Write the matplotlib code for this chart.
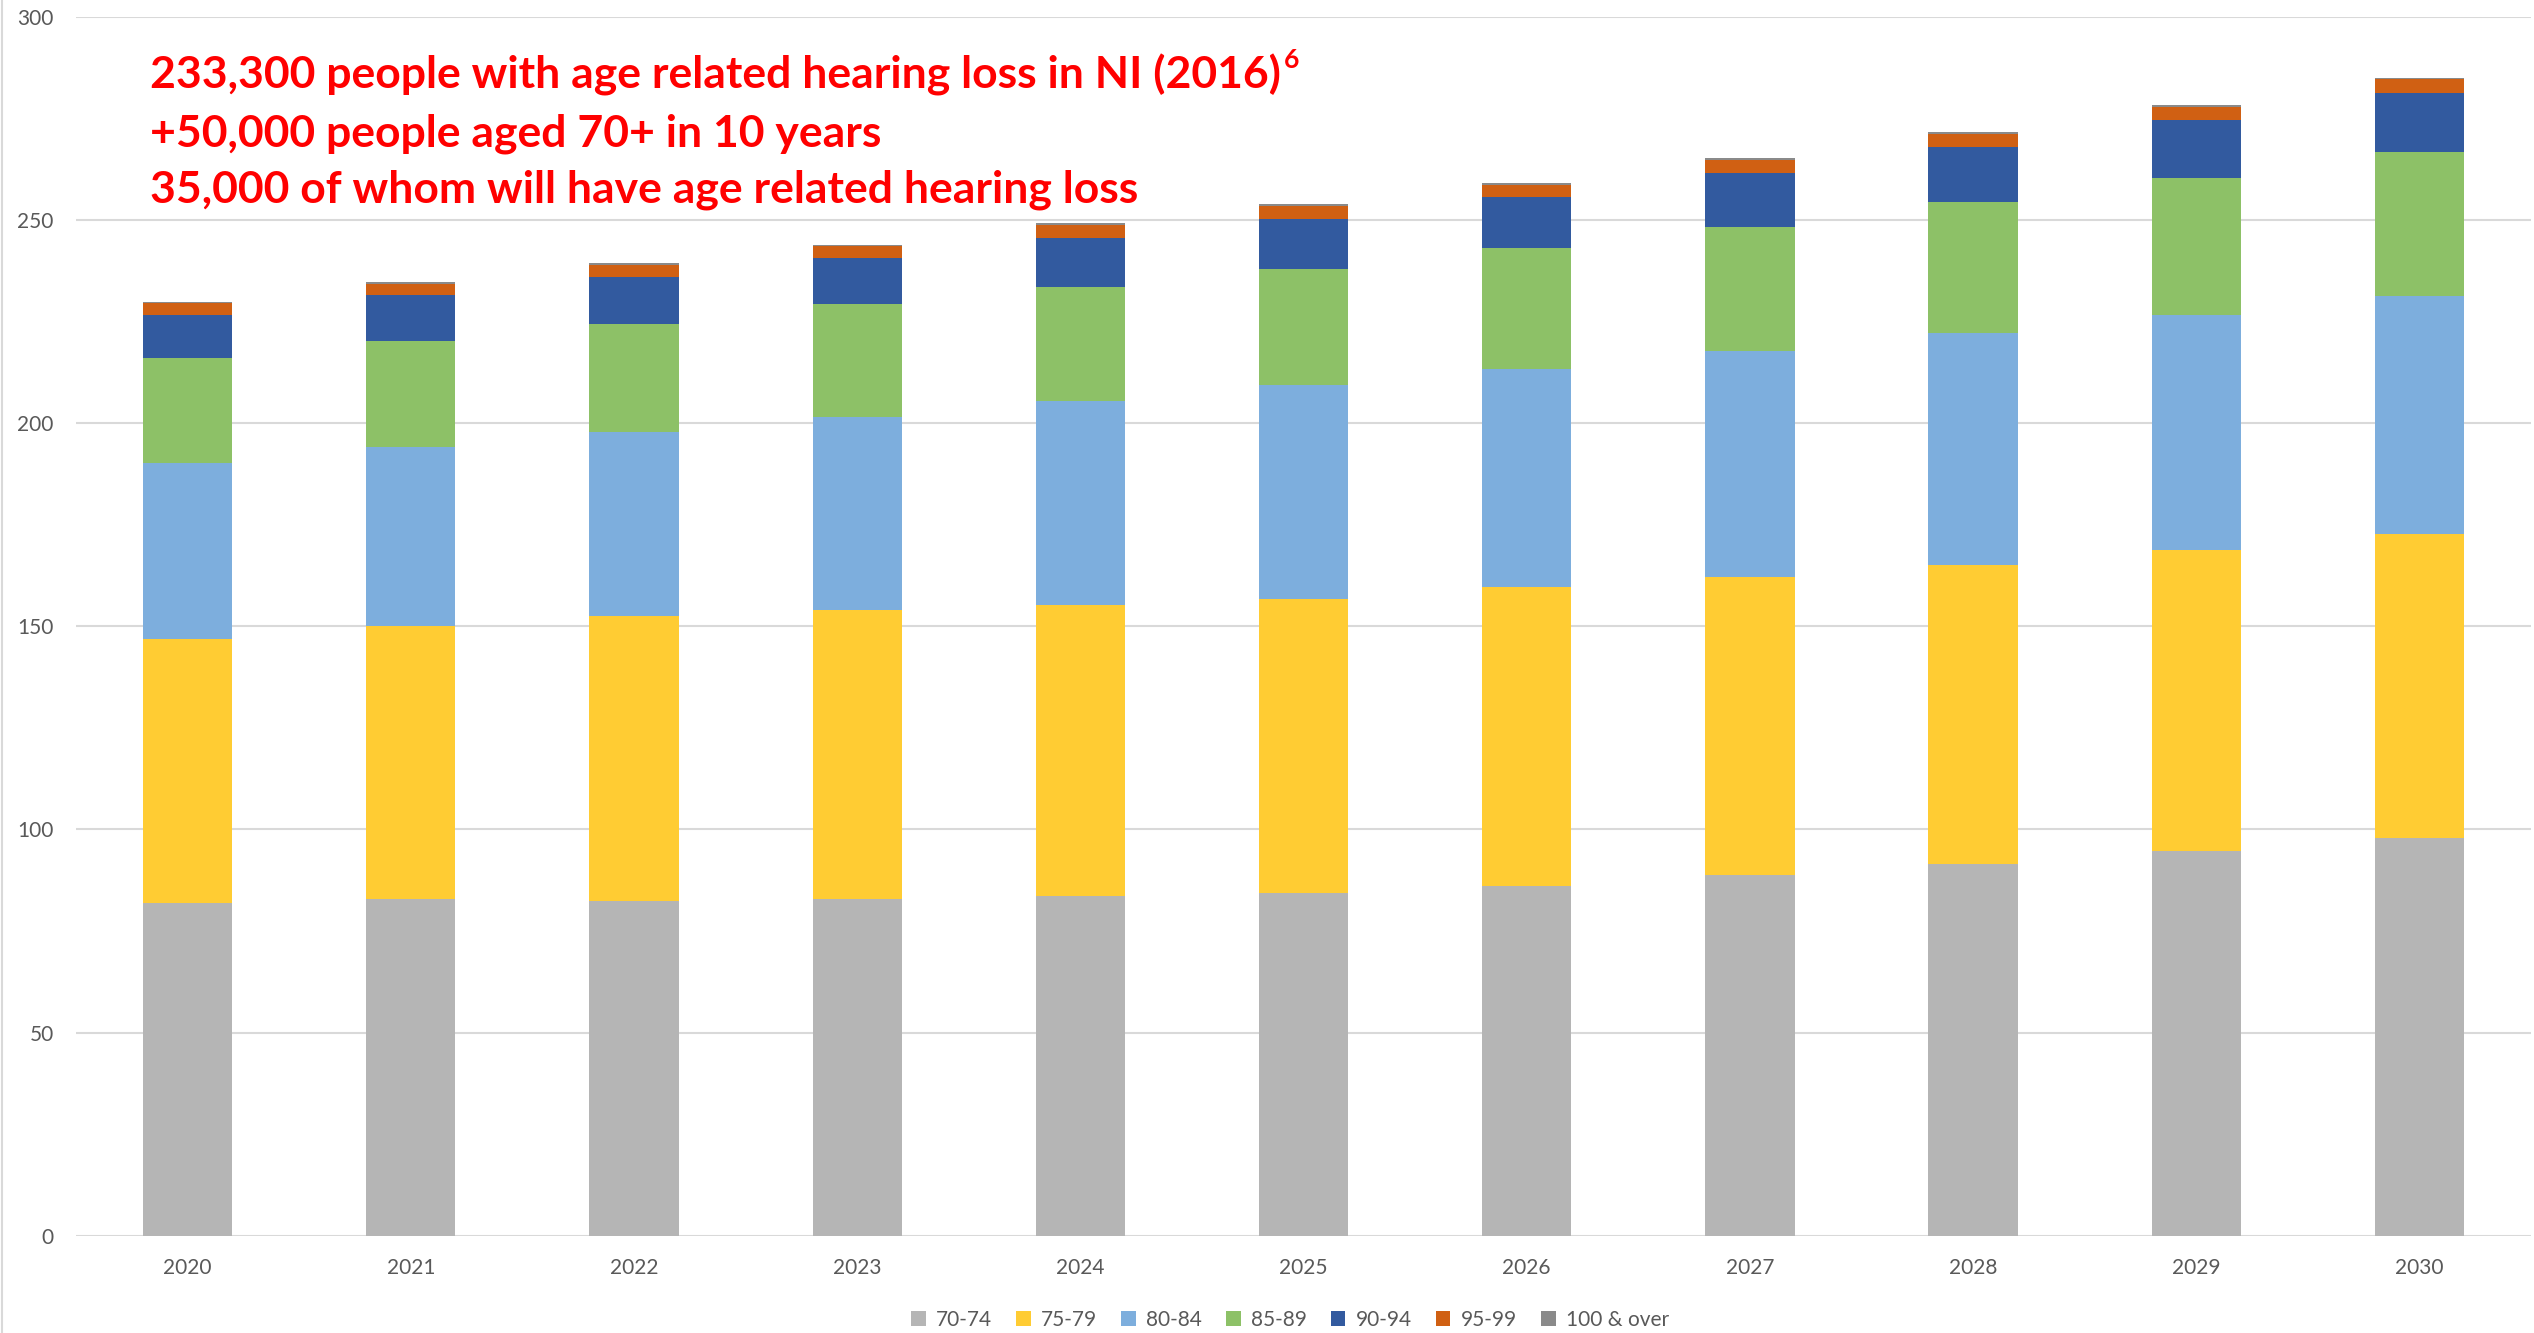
import matplotlib
matplotlib.use("Agg")
import matplotlib.pyplot as plt
from matplotlib.patches import Patch
from matplotlib.lines import Line2D
import numpy as np

plt.rcParams['font.family'] = ['Lato', 'DejaVu Sans']

# --- Data (thousands of people, Northern Ireland projections) ---
years = ['2020', '2021', '2022', '2023', '2024', '2025', '2026', '2027', '2028', '2029', '2030']
age_70_74 = [82.0, 82.8, 82.4, 82.8, 83.6, 84.4, 86.0, 88.7, 91.5, 94.7, 97.9]
age_75_79 = [64.8, 67.2, 70.0, 71.2, 71.6, 72.4, 73.6, 73.3, 73.6, 74.0, 74.8]
age_80_84 = [43.4, 44.1, 45.4, 47.4, 50.1, 52.5, 53.6, 55.8, 57.1, 57.8, 58.6]
age_85_89 = [25.7, 26.2, 26.6, 27.8, 28.3, 28.7, 29.8, 30.5, 32.3, 33.9, 35.5]
age_90_94 = [10.6, 11.2, 11.6, 11.5, 11.9, 12.3, 12.6, 13.2, 13.5, 14.1, 14.4]
age_95_99 = [3.1, 2.7, 2.8, 2.8, 3.2, 3.2, 3.0, 3.2, 3.2, 3.3, 3.5]
age_100_plus = [0.3, 0.4, 0.5, 0.4, 0.5, 0.5, 0.4, 0.5, 0.5, 0.5, 0.2]

series_labels = ['70-74', '75-79', '80-84', '85-89', '90-94', '95-99', '100 & over']
series = [age_70_74, age_75_79, age_80_84, age_85_89, age_90_94, age_95_99, age_100_plus]
colors = ['#B5B5B5', '#FFCC33', '#7DAEDD', '#8DC167', '#325A9F', '#D06013', '#8A8A8A']

headline = [
    '233,300 people with age related hearing loss in NI (2016)',
    '+50,000 people aged 70+ in 10 years',
    '35,000 of whom will have age related hearing loss',
]

# --- Figure ---
W, H = 2534, 1333
fig = plt.figure(figsize=(W / 100, H / 100), dpi=100)
ax = fig.add_axes([76 / W, 1 - 1235.7 / H, (2531 - 76) / W, (1235.7 - 16.7) / H])

x = np.arange(len(years))
bottom = np.zeros(len(years))
for vals, lab, col in zip(series, series_labels, colors):
    ax.bar(x, vals, width=0.4, bottom=bottom, color=col, label=lab, linewidth=0, zorder=3)
    bottom += np.array(vals)

ax.set_xlim(-0.5, len(years) - 0.5)
ax.set_ylim(0, 300)
ax.set_yticks(np.arange(0, 301, 50))
ax.set_xticks(x)
ax.set_xticklabels(years)
ax.grid(axis='y', color='#D9D9D9', linewidth=1.5, zorder=0)
ax.set_axisbelow(True)
for s in ax.spines.values():
    s.set_visible(False)
ax.tick_params(axis='both', length=0, labelsize=15, colors='#595959')
ax.tick_params(axis='y', pad=16)
ax.tick_params(axis='x', pad=16)
for lbl in ax.get_yticklabels() + ax.get_xticklabels():
    lbl.set_clip_on(False)

# chart-area border on the left
fig.add_artist(Line2D([1.5 / W, 1.5 / W], [0, 1], transform=fig.transFigure,
                      color='#D9D9D9', linewidth=1.5))

# legend
handles = [Patch(facecolor=c, edgecolor='none') for c in colors]
fig.legend(handles, series_labels, loc='center', bbox_to_anchor=(1290 / W, 1 - 1320 / H),
           ncol=7, frameon=False, fontsize=15, handlelength=0.7, handleheight=0.7,
           handletextpad=0.5, columnspacing=1.15, labelcolor='#595959')

# headline text in red
baselines = [88, 146, 203]
texts = []
for line, yb in zip(headline, baselines):
    t = fig.text(150 / W, 1 - yb / H, line, color='#FF0000', fontsize=32,
                 fontweight='bold', va='baseline', ha='left')
    texts.append(t)

fig.canvas.draw()
bb = texts[0].get_window_extent()
fig.text((bb.x1 + 3) / W, 1 - 68 / H, '6', color='#FF0000', fontsize=19,
         fontweight='bold', va='baseline', ha='left')

fig.savefig('out.png', dpi=100, facecolor='white')
